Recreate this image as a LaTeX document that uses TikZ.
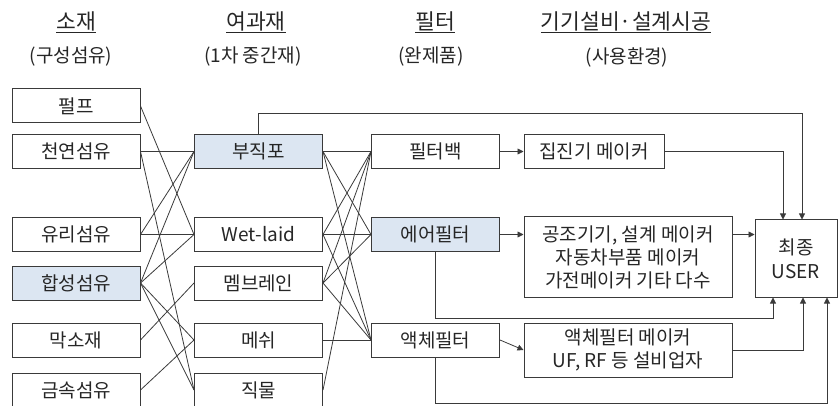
\documentclass[tikz,border=0pt]{standalone}
\usepackage{fontspec}
\setmainfont{Noto Sans CJK KR}
\usetikzlibrary{arrows.meta}
\definecolor{boxfill}{HTML}{DCE6F2}
\definecolor{ln}{HTML}{3A3A3A}
\definecolor{tx}{HTML}{262626}
\begin{document}
\begin{tikzpicture}[x=1pt,y=-1pt,
 box/.style={draw=ln, line width=1pt, minimum height=34pt, text=tx, font=\fontsize{19}{22}\selectfont, inner sep=0pt},
 colbox/.style={box, minimum width=128pt},
 hi/.style={fill=boxfill},
 conn/.style={draw=ln, line width=0.8pt},
 arr/.style={conn, -{Triangle[length=6pt,width=6pt]}},
 head/.style={text=tx, font=\fontsize{21.5}{24}\selectfont, inner sep=0pt},
 sub/.style={text=tx, font=\fontsize{19}{22}\selectfont, inner sep=0pt},
 multi/.style={box, align=center, font=\fontsize{19}{23}\selectfont}]
\useasboundingbox (0,0) rectangle (838,406);
% headers
\node[head] (h1) at (76,22) {\underline{소재}};
\node[head] (h2) at (256,22) {\underline{여과재}};
\node[head] (h3) at (435,22) {\underline{필터}};
\node[head] (h4) at (626,22) {\underline{기기설비·설계시공}};
\node[sub] (s1) at (71,57) {(구성섬유)};
\node[sub] (s2) at (253,57) {(1차 중간재)};
\node[sub] (s3) at (431,57) {(완제품)};
\node[sub] (s4) at (627,57) {(사용환경)};
% left column
\node[colbox] (pulp) at (76,106) {펄프};
\node[colbox] (nat) at (76,151.5) {천연섬유};
\node[colbox] (glass) at (76,234.5) {유리섬유};
\node[colbox,hi] (syn) at (76,283) {합성섬유};
\node[colbox] (memm) at (76,340) {막소재};
\node[colbox] (metal) at (76,390) {금속섬유};
% middle column
\node[colbox,hi] (nw) at (258.5,151.5) {부직포};
\node[colbox] (wet) at (258.5,234.5) {Wet-laid};
\node[colbox] (mem) at (258.5,283) {멤브레인};
\node[colbox] (mesh) at (258.5,340) {메쉬};
\node[colbox] (wov) at (258.5,390) {직물};
% filter column
\node[colbox] (bag) at (435.5,151.5) {필터백};
\node[colbox,hi] (air) at (435.5,234.5) {에어필터};
\node[colbox] (liq) at (435.5,340) {액체필터};
% maker column
\node[box, minimum width=140pt] (m1) at (594,151.5) {집진기 메이커};
\node[multi, minimum width=208pt, minimum height=80pt] (m2) at (628,257) {공조기기, 설계 메이커\\자동차부품 메이커\\가전메이커 기타 다수};
\node[multi, minimum width=208pt, minimum height=54pt] (m3) at (628,350) {액체필터 메이커\\UF, RF 등 설비업자};
% user
\node[box, minimum width=82pt, minimum height=77pt, align=center, font=\fontsize{19}{24}\selectfont] (user) at (796,258.5) {최종\\USER};
% left -> middle
\draw[conn] (pulp.east) -- (wet.west);
\draw[conn] (nat.east) -- (nw.west);
\draw[conn] (nat.east) -- (wov.west);
\draw[conn] (glass.east) -- (nw.west);
\draw[conn] (glass.east) -- (wet.west);
\draw[conn] (syn.east) -- (nw.west);
\draw[conn] (syn.east) -- (wet.west);
\draw[conn] (syn.east) -- (mesh.west);
\draw[conn] (syn.east) -- (wov.west);
\draw[conn] (memm.east) -- (mem.west);
\draw[conn] (metal.east) -- (mesh.west);
% middle -> filter
\draw[conn] (nw.east) -- (bag.west);
\draw[conn] (nw.east) -- (air.west);
\draw[conn] (nw.east) -- (liq.west);
\draw[conn] (wet.east) -- (bag.west);
\draw[conn] (wet.east) -- (air.west);
\draw[conn] (wet.east) -- (liq.west);
\draw[conn] (mem.east) -- (bag.west);
\draw[conn] (mem.east) -- (air.west);
\draw[conn] (mem.east) -- (liq.west);
\draw[conn] (mesh.east) -- (liq.west);
\draw[conn] (wov.east) -- (bag.west);
% filter -> maker
\draw[arr] (bag.east) -- (m1.west);
\draw[arr] (air.east) -- (air.east -| m2.west);
\draw[arr] (liq.east) -- (m3.west);
% to user
\coordinate (t1) at (802,113);
\coordinate (t2) at (783,151.5);
\draw[arr] (nw.north) |- (t1) -- (t1 |- user.north);
\draw[arr] (m1.east) -- (t2) -- (t2 |- user.north);
\draw[arr] (m2.east |- air.east) -- (m2.east |- air.east -| user.west);
\coordinate (b1) at (773,318);
\coordinate (b2) at (803,350);
\coordinate (b3) at (827,403);
\draw[arr] (air.south) |- (b1) -- (b1 |- user.south);
\draw[arr] (m3.east) -- (b2) -- (b2 |- user.south);
\draw[arr] (liq.south) |- (b3) -- (b3 |- user.south);
\end{tikzpicture}
\end{document}
